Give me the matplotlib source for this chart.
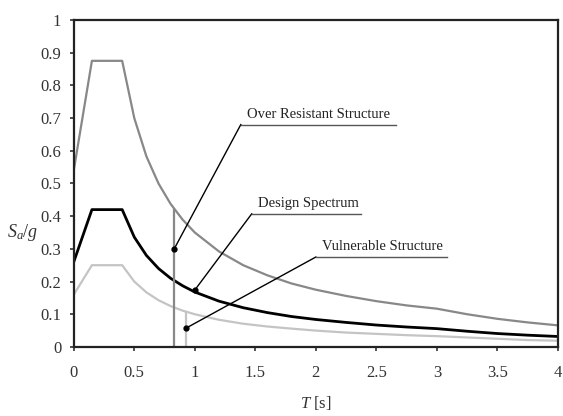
import matplotlib.pyplot as plt

plt.rcParams['font.family'] = ['Liberation Serif', 'DejaVu Serif']
plt.rcParams['mathtext.fontset'] = 'custom'
plt.rcParams['mathtext.rm'] = 'Liberation Serif'
plt.rcParams['mathtext.it'] = 'Liberation Serif:italic'

# periods [s]
T = [0, 0.15, 0.4, 0.5, 0.6, 0.7, 0.8, 0.9, 1.0, 1.2, 1.4, 1.6, 1.8, 2.0,
     2.25, 2.5, 2.75, 3.0, 3.25, 3.5, 3.75, 4.0]
# Sa/g
design = [0.26, 0.42, 0.42, 0.336, 0.28, 0.24, 0.21, 0.187, 0.168, 0.14, 0.12,
          0.105, 0.093, 0.084, 0.075, 0.067, 0.061, 0.056, 0.048, 0.041, 0.036, 0.032]
over = [0.54, 0.875, 0.875, 0.70, 0.583, 0.50, 0.4375, 0.389, 0.35, 0.292, 0.25,
        0.219, 0.194, 0.175, 0.156, 0.14, 0.127, 0.117, 0.10, 0.086, 0.075, 0.066]
vuln = [0.16, 0.25, 0.25, 0.20, 0.167, 0.143, 0.125, 0.111, 0.10, 0.083, 0.071,
        0.0625, 0.056, 0.05, 0.044, 0.04, 0.036, 0.033, 0.029, 0.025, 0.021, 0.019]

# annotations: label, dot position, label position, underline length
labels = ["Over Resistant Structure", "Design Spectrum", "Vulnerable Structure"]
dot_T = [0.83, 1.0, 0.93]
dot_y = [0.30, 0.174, 0.058]
label_T = [1.38, 1.47, 2.0]
label_y = [0.68, 0.407, 0.275]
label_len = [1.28, 0.9, 1.08]

fig = plt.figure(figsize=(5.63, 4.16), dpi=100)
ax = fig.add_axes([0.131, 0.166, 0.86, 0.786])

ax.plot(T, over, color='#888888', lw=1.6)
ax.plot(T, vuln, color='#c4c4c4', lw=1.6)
ax.plot(T, design, color='black', lw=2.0)

# vertical lines for the two structures
ax.plot([0.83, 0.83], [0, 0.42], color='#888888', lw=1.6)
ax.plot([0.93, 0.93], [0, 0.107], color='#c4c4c4', lw=1.6)

for i in range(3):
    ax.plot([dot_T[i], label_T[i]], [dot_y[i], label_y[i]], color='black', lw=1.0)
    ax.plot([label_T[i], label_T[i] + label_len[i]], [label_y[i], label_y[i]],
            color='#555555', lw=1.0)
    ax.plot(dot_T[i], dot_y[i], 'o', color='black', ms=3.5)
    ax.text(label_T[i] + 0.05, label_y[i] + 0.012, labels[i], fontsize=10.5,
            ha='left', va='bottom', color='#222222')

ax.set_xlim(0, 4)
ax.set_ylim(0, 1)
ax.set_xticks([0, 0.5, 1, 1.5, 2, 2.5, 3, 3.5, 4])
ax.set_xticklabels(['0', '0.5', '1', '1.5', '2', '2.5', '3', '3.5', '4'])
ax.set_yticks([0, 0.1, 0.2, 0.3, 0.4, 0.5, 0.6, 0.7, 0.8, 0.9, 1])
ax.set_yticklabels(['0', '0.1', '0.2', '0.3', '0.4', '0.5', '0.6', '0.7', '0.8', '0.9', '1'])
ax.tick_params(labelsize=12, length=3, width=1.2, color='#333333', labelcolor='#333333')
ax.tick_params(axis='x', pad=10)
ax.tick_params(axis='y', pad=6)
for s in ax.spines.values():
    s.set_linewidth(1.6)
    s.set_color('#222222')

ax.set_xlabel(r'$T$ [s]', fontsize=12, color='#333333')
ax.xaxis.set_label_coords(0.5, -0.145)
fig.text(0.012, 0.43, r'$S_a/g$', fontsize=13, color='#333333')

fig.savefig('out.png', dpi=100)
